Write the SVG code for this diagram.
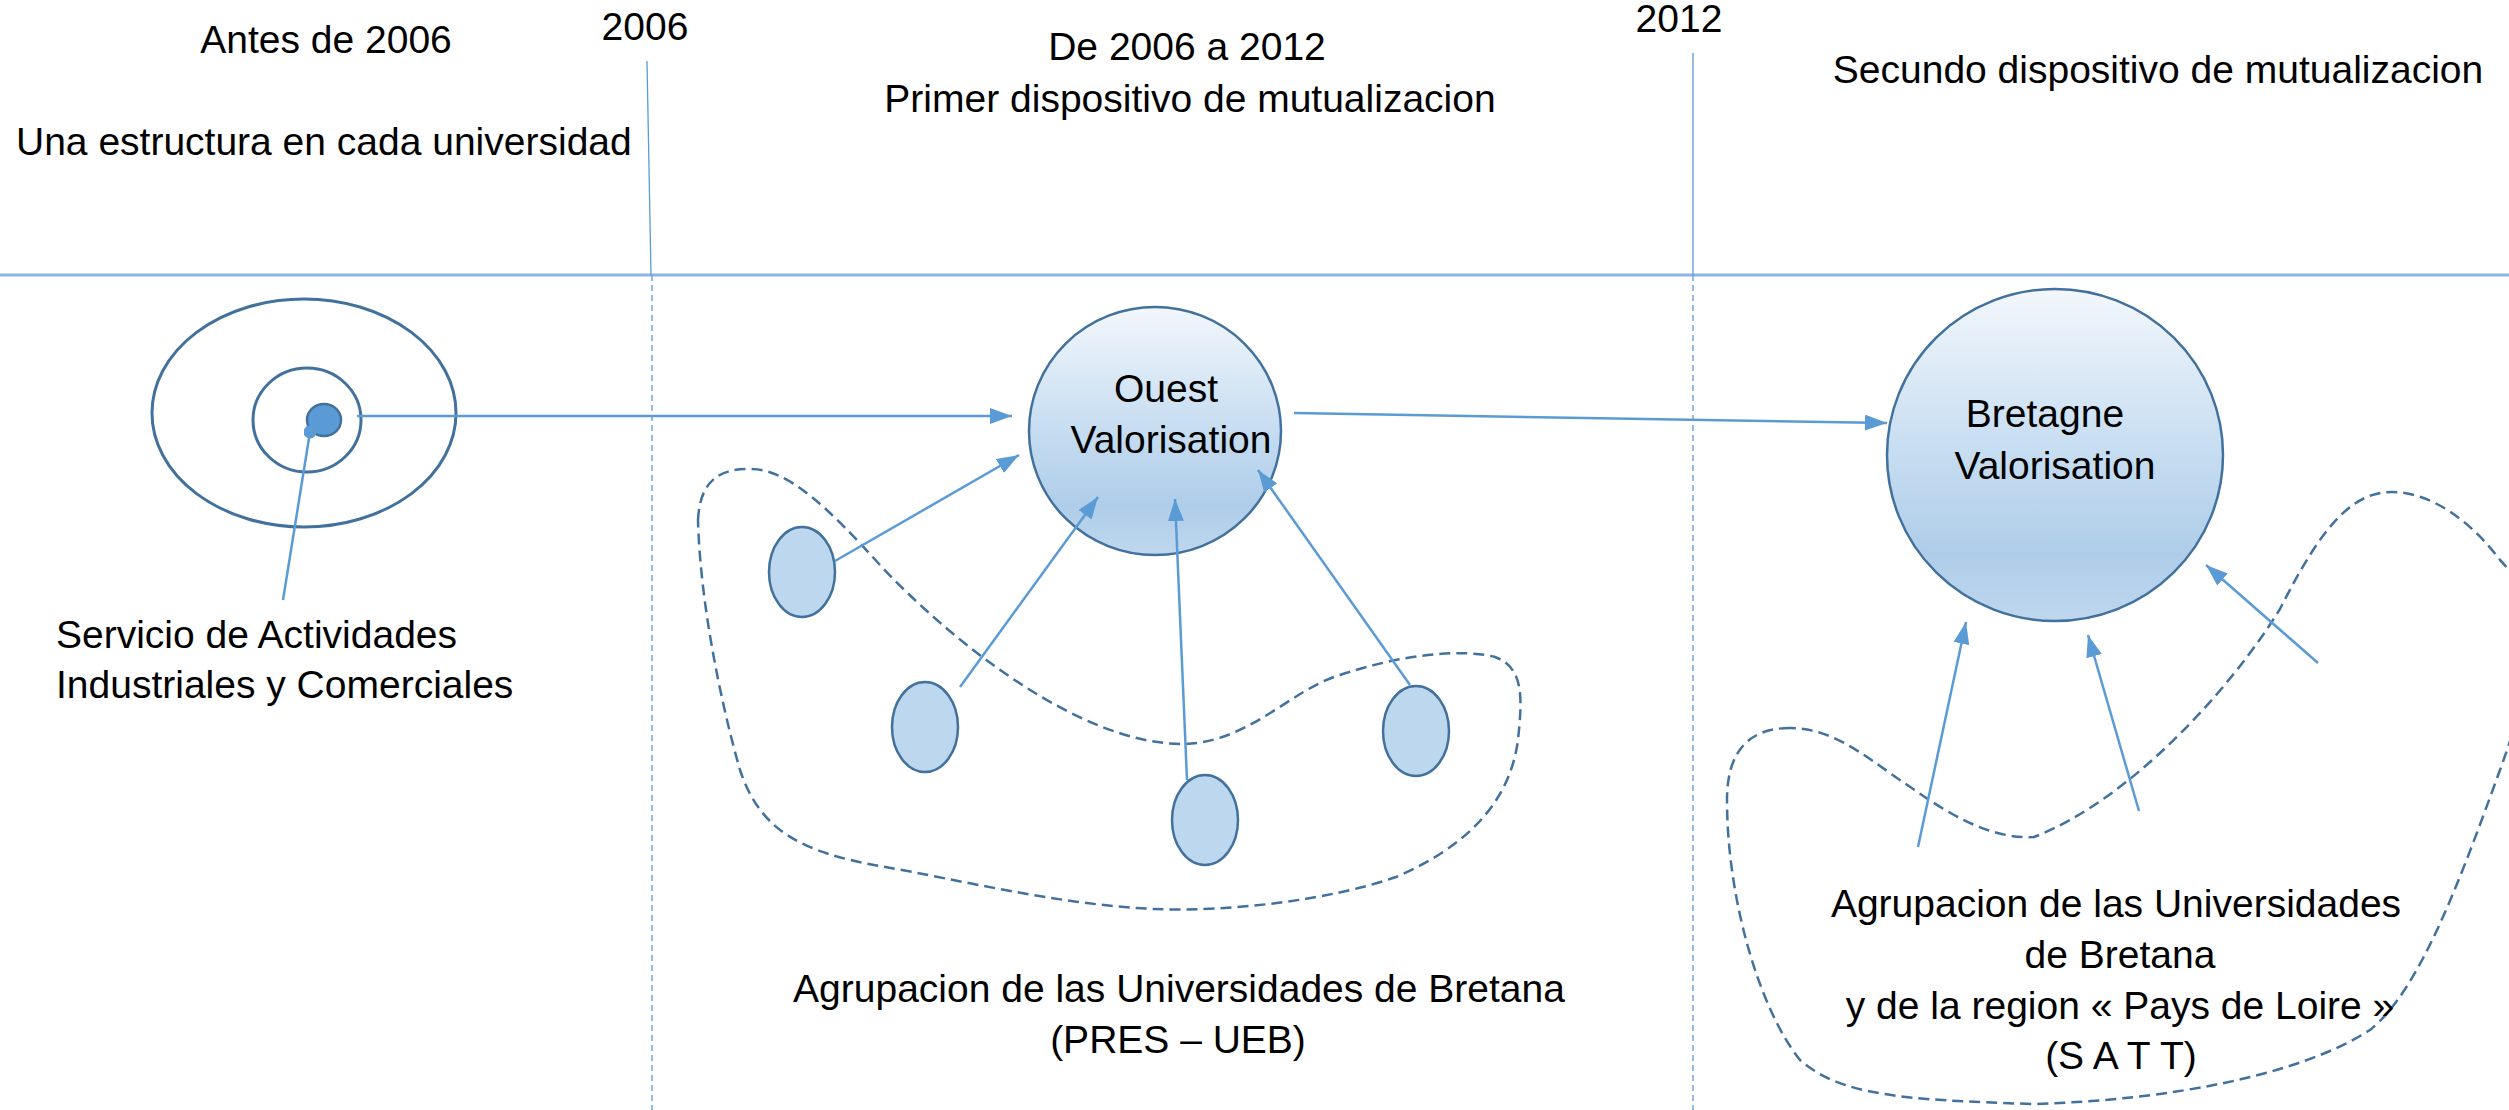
<svg xmlns="http://www.w3.org/2000/svg" width="2509" height="1110" viewBox="0 0 2509 1110">
<style>
text{font-family:"Liberation Sans",Arial,sans-serif;font-size:39px;fill:#000}
.c{text-anchor:middle}
.time{stroke:#8db4e2;stroke-width:3;fill:none}
.vs{stroke:#5b9bd5;stroke-width:1.3;fill:none}
.vd{stroke:#5b9bd5;stroke-width:1.3;fill:none;stroke-dasharray:6 4}
.ring{fill:none;stroke:#41719c;stroke-width:3}
.uni{fill:#bdd7ee;stroke:#41719c;stroke-width:2.5}
.big{fill:url(#bubble);stroke:#41719c;stroke-width:2.5}
.blob{fill:none;stroke:#41719c;stroke-width:2.5;stroke-dasharray:11 6}
.arr{stroke:#5b9bd5;stroke-width:2.5;fill:none;marker-end:url(#ah)}
</style>
<defs>
<linearGradient id="bubble" x1="0" y1="0" x2="0" y2="1">
<stop offset="0" stop-color="#f3f7fc"/>
<stop offset="0.45" stop-color="#cadff2"/>
<stop offset="0.8" stop-color="#afcde9"/>
<stop offset="1" stop-color="#bfd7ee"/>
</linearGradient>
<marker id="ah" viewBox="0 0 10 10" refX="10" refY="5" markerWidth="22" markerHeight="16" markerUnits="userSpaceOnUse" orient="auto" preserveAspectRatio="none">
<path d="M0,0 L10,5 L0,10 z" fill="#5b9bd5"/>
</marker>
<marker id="dot" viewBox="0 0 10 10" refX="5" refY="5" markerWidth="13" markerHeight="13" markerUnits="userSpaceOnUse">
<circle cx="5" cy="5" r="5" fill="#5b9bd5"/>
</marker>
</defs>
<rect width="2509" height="1110" fill="#fff"/>

<g id="timeline">
<line class="time" x1="0" y1="275" x2="2509" y2="275"/>
<line class="vs" x1="647" y1="61" x2="651" y2="275"/>
<line class="vd" x1="652" y1="275" x2="652" y2="1110"/>
<line class="vs" x1="1693" y1="53" x2="1693" y2="275"/>
<line class="vd" x1="1693" y1="275" x2="1693" y2="1110"/>
</g>

<g id="headers">
<text class="c" x="326" y="53">Antes de 2006</text>
<text class="c" x="645" y="40">2006</text>
<text x="16" y="155">Una estructura en cada universidad</text>
<text class="c" x="1187" y="60">De 2006 a 2012</text>
<text class="c" x="1190" y="112">Primer dispositivo de mutualizacion</text>
<text class="c" x="1679" y="32">2012</text>
<text class="c" x="2158" y="83">Secundo dispositivo de mutualizacion</text>
</g>

<g id="universidad">
<ellipse class="ring" cx="304" cy="413" rx="152" ry="114"/>
<ellipse class="ring" cx="307" cy="420" rx="54" ry="52"/>
<ellipse cx="324" cy="420" rx="17" ry="16" fill="#5b9bd5" stroke="#41719c" stroke-width="2.5"/>
</g>

<g id="saic-label">
<text x="56" y="648">Servicio de Actividades</text>
<text x="56" y="698">Industriales y Comerciales</text>
</g>

<g id="pres-ueb-group">
<path class="blob" d="M698,520 C700,480 720,468 752,469 C790,470 830,510 880,565 C950,640 1080,745 1184,744 C1250,742 1290,690 1340,675 C1400,655 1460,648 1495,657 C1525,668 1522,700 1518,740 C1510,800 1470,845 1396,877 C1330,900 1230,912 1155,909 C1060,905 960,880 880,866 C800,852 760,830 740,770 C720,700 700,600 698,520 Z"/>
</g>

<g id="u1"><ellipse class="uni" cx="802" cy="572" rx="33" ry="45"/></g>
<g id="u2"><ellipse class="uni" cx="925" cy="727" rx="33" ry="45"/></g>
<g id="u3"><ellipse class="uni" cx="1205" cy="820" rx="33" ry="45"/></g>
<g id="u4"><ellipse class="uni" cx="1416" cy="731" rx="33" ry="45"/></g>

<g id="ouest-valorisation">
<ellipse class="big" cx="1155" cy="431" rx="126" ry="124"/>
<text class="c" x="1166" y="402">Ouest</text>
<text class="c" x="1171" y="453">Valorisation</text>
</g>

<g id="pres-ueb-label">
<text class="c" x="1179" y="1002">Agrupacion de las Universidades de Bretana</text>
<text class="c" x="1178" y="1053">(PRES – UEB)</text>
</g>

<g id="satt-group">
<path class="blob" d="M1790,728 C1750,728 1727,750 1727,800 C1727,900 1760,1010 1800,1060 C1840,1095 1900,1100 2034,1104 C2170,1100 2300,1075 2370,1030 C2420,990 2460,880 2500,770 C2540,660 2540,600 2500,560 C2470,520 2430,492 2392,492 C2350,492 2320,530 2280,609 C2230,690 2130,800 2034,837 C1980,840 1930,800 1897,778 C1860,752 1830,728 1790,728 Z"/>
</g>

<g id="bretagne-valorisation">
<ellipse class="big" cx="2055" cy="455" rx="168" ry="166"/>
<text class="c" x="2045" y="427">Bretagne</text>
<text class="c" x="2055" y="479">Valorisation</text>
</g>

<g id="satt-label">
<text class="c" x="2116" y="917">Agrupacion de las Universidades</text>
<text class="c" x="2120" y="968">de Bretana</text>
<text class="c" x="2120" y="1019">y de la region « Pays de Loire »</text>
<text class="c" x="2121" y="1069">(S A T T)</text>
</g>

<g id="connectors">
<line class="arr" x1="357" y1="416" x2="1012" y2="416"/>
<line x1="310" y1="432" x2="283" y2="600" stroke="#5b9bd5" stroke-width="2.5" marker-start="url(#dot)"/>
<line class="arr" x1="1294" y1="413" x2="1887" y2="423"/>
<line class="arr" x1="835" y1="561" x2="1019" y2="455"/>
<line class="arr" x1="960" y1="687" x2="1098" y2="497"/>
<line class="arr" x1="1187" y1="780" x2="1175" y2="499"/>
<line class="arr" x1="1410" y1="685" x2="1258" y2="470"/>
<line class="arr" x1="1918" y1="847" x2="1966" y2="622"/>
<line class="arr" x1="2139" y1="811" x2="2088" y2="635"/>
<line class="arr" x1="2318" y1="663" x2="2206" y2="565"/>
</g>
</svg>
